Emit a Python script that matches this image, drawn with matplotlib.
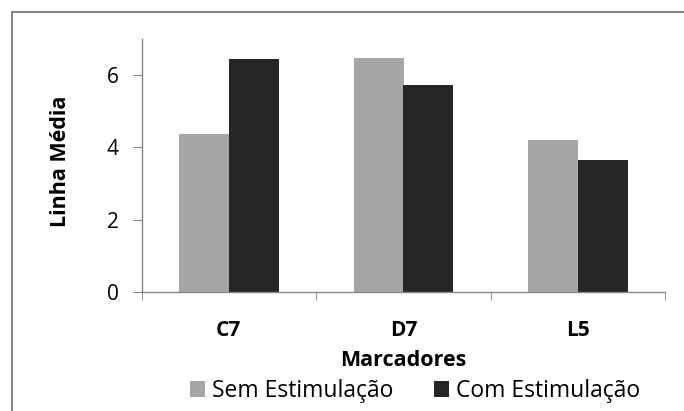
import matplotlib.pyplot as plt
import numpy as np
from matplotlib.patches import Rectangle

categories = ["C7", "D7", "L5"]
sem_estim = [4.38, 6.48, 4.21]
com_estim = [6.44, 5.73, 3.64]
y_ticks = [0, 2, 4, 6]

plt.rcParams['font.family'] = ['Open Sans', 'DejaVu Sans']

fig = plt.figure(figsize=(6.84, 4.11), dpi=100)
ax = fig.add_axes([141.5/684, 1-292/411, 524/684, 253/411])

x = np.arange(len(categories)) + 1
w = 0.286
ax.bar(x - w/2, sem_estim, w, color="#a6a6a6", label="Sem Estimulação")
ax.bar(x + w/2, com_estim, w, color="#262626", label="Com Estimulação")

ax.set_xlim(0.5, 3.5)
ax.set_ylim(0, 7)
ax.set_yticks(y_ticks)
ax.set_xticks(x)
ax.set_xticklabels(categories, fontweight="bold", fontsize=15)
ax.set_xticks([0.5, 1.5, 2.5, 3.5], minor=True)
ax.tick_params(axis="x", which="major", length=0, pad=20)
ax.tick_params(axis="x", which="minor", length=6, color="#868686", direction="out")
ax.tick_params(axis="y", length=6.5, color="#868686", labelsize=15, pad=10)

for s in ["top", "right"]:
    ax.spines[s].set_visible(False)
for s in ["left", "bottom"]:
    ax.spines[s].set_color("#868686")
    ax.spines[s].set_linewidth(1)

fig.text((141.5+665.5)/2/684, 1-360/411, "Marcadores", ha="center", va="center",
         fontsize=15.5, fontweight="bold")
fig.text(61/684, 1-161/411, "Linha Média", ha="center", va="center", rotation=90,
         fontsize=15.5, fontweight="bold")

fig.legend(loc="center", bbox_to_anchor=(415/684, 1-391/411), ncol=2, frameon=False,
           fontsize=16.5, handlelength=0.65, handleheight=0.65, handletextpad=0.3,
           columnspacing=1.8, borderaxespad=0, borderpad=0)

fig.patches.append(Rectangle((12/684, -0.2), 1.2, 1.2 - 12/411, transform=fig.transFigure,
                             fill=False, edgecolor="#868686", linewidth=1.5))

fig.savefig("out.png", dpi=100)
